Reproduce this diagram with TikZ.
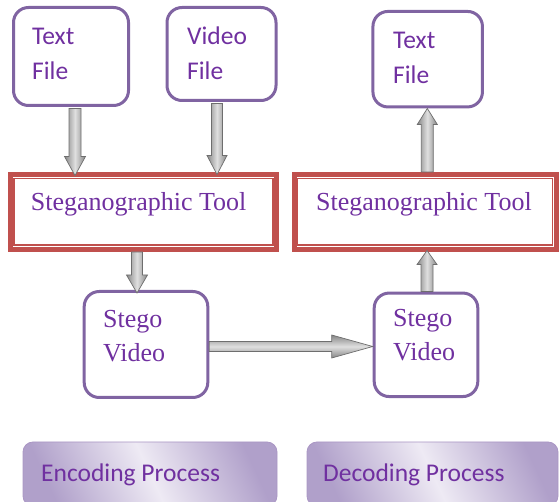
\documentclass[tikz,border=0pt]{standalone}
\usepackage{fontspec}
\usetikzlibrary{calc}
\newfontfamily\sansface{Carlito}
\newfontfamily\serifface{Liberation Serif}
\definecolor{boxpurple}{RGB}{128,100,162}
\definecolor{txtpurple}{RGB}{112,48,160}
\definecolor{toolred}{RGB}{192,80,77}
\definecolor{arrowedge}{RGB}{110,110,110}
\definecolor{lavdark}{RGB}{176,160,202}
\definecolor{lavlight}{RGB}{238,234,244}
\definecolor{lavedge}{RGB}{170,150,196}

\tikzset{
  filebox/.style={draw=boxpurple, line width=3pt, rounded corners=15pt, fill=white, inner sep=0pt},
  toolbox/.style={draw=toolred, line width=5pt, fill=white, inner sep=0pt},
  toolinner/.style={draw=toolred, line width=1.3pt},
  procbox/.style={draw=lavedge, line width=0.8pt, rounded corners=10pt, inner sep=0pt,
    left color=lavdark, right color=lavdark, middle color=lavlight, shading angle=115},
  lbl/.style={anchor=base west, inner sep=0pt, text=txtpurple},
  sanslbl/.style={lbl, font=\sansface\fontsize{25.5}{30}\selectfont},
  seriflbl/.style={lbl, font=\serifface\fontsize{26}{30}\selectfont},
  varrow/.style={draw=arrowedge, line width=0.7pt, left color=gray!95, right color=gray!95, middle color=gray!25},
  harrow/.style={draw=arrowedge, line width=0.7pt, top color=gray!95, bottom color=gray!95, middle color=gray!25},
}

% fat block arrow: [style]{start}{tip}{head length}{half shaft}{half head}
\newcommand\fatarrow[6][]{%
  \coordinate (fa-h) at ($(#3)!#4!(#2)$);
  \path[#1] ($(#2)!#5!-90:(#3)$) -- ($(fa-h)!#5!90:(#2)$) -- ($(fa-h)!#6!90:(#2)$)
    -- (#3) -- ($(fa-h)!#6!-90:(#2)$) -- ($(fa-h)!#5!-90:(#2)$) -- ($(#2)!#5!90:(#3)$) -- cycle;}

\begin{document}
\begin{tikzpicture}[x=1pt,y=-1pt]
\clip (0,0) rectangle (560,502);

% input files and the two tools
\node[filebox, minimum width=115pt, minimum height=98pt] (tf) at (71,56.5) {};
\node[filebox, minimum width=109pt, minimum height=93pt] (vf) at (221.5,54) {};
\node[filebox, minimum width=109.5pt, minimum height=95.5pt] (tf2) at (427.7,59.2) {};
\node[toolbox, minimum width=266pt, minimum height=75pt] (enc) at (143.5,212) {};
\node[toolbox, minimum width=262pt, minimum height=75pt] (dec) at (425.3,212) {};
\draw[toolinner] ([shift={(6pt,-6.5pt)}]enc.north west) rectangle ([shift={(-6pt,7pt)}]enc.south east);
\draw[toolinner] ([shift={(6pt,-6.5pt)}]dec.north west) rectangle ([shift={(-6pt,7pt)}]dec.south east);

% stego videos
\node[filebox, minimum width=123.6pt, minimum height=106pt] (sv1) at (146,344.5) {};
\node[filebox, minimum width=103.6pt, minimum height=103.5pt] (sv2) at (426,344.8) {};

% process captions
\node[procbox, minimum width=254pt, minimum height=64pt] (ep) at (150,474) {};
\node[procbox, minimum width=251pt, minimum height=64pt] (dp) at (432.5,474) {};

% texts
\node[sanslbl] (tf-a) at (32,45) {Text};
\node[sanslbl] (tf-b) at (32,80) {File};
\node[sanslbl] (vf-a) at (187,45) {Video};
\node[sanslbl] (vf-b) at (187,80) {File};
\node[sanslbl] (tf2-a) at (393,49) {Text};
\node[sanslbl] (tf2-b) at (393,84) {File};
\node[seriflbl] (enc-t) at (30.7,211) {Steganographic Tool};
\node[seriflbl] (dec-t) at (316,211) {Steganographic Tool};
\node[seriflbl] (sv1-a) at (103,328) {Stego};
\node[seriflbl] (sv1-b) at (103,361.5) {Video};
\node[seriflbl] (sv2-a) at (393,327) {Stego};
\node[seriflbl] (sv2-b) at (393,361) {Video};
\node[sanslbl] (ep-t) at (41,481.5) {Encoding Process};
\node[sanslbl] (dp-t) at (323,481.5) {Decoding Process};

% arrow end points
\coordinate (a1s) at ([xshift=4pt,yshift=-1.5pt]tf.south);
\coordinate (a1t) at (a1s |- enc.north);
\coordinate (a1e) at ([yshift=-3.5pt]a1t);
\coordinate (a2s) at ([xshift=-4.5pt,yshift=-1.5pt]vf.south);
\coordinate (a2t) at (a2s |- enc.north);
\coordinate (a2e) at ([yshift=-2.5pt]a2t);
\coordinate (a3s) at ([xshift=-6.5pt]enc.south);
\coordinate (a3t) at (a3s |- sv1.north);
\coordinate (a3e) at ([yshift=-3pt]a3t);
\coordinate (a4s) at ([yshift=-2pt]sv1.east);
\coordinate (a4e) at (a4s -| sv2.west);
\coordinate (a5s) at ([xshift=1pt]sv2.north);
\coordinate (a5t) at (a5s |- dec.south);
\coordinate (a5e) at ([yshift=1.5pt]a5t);
\coordinate (a6s) at ([xshift=2pt]dec.north);
\coordinate (a6e) at (a6s |- tf2.south);

\fatarrow[varrow]{a1s}{a1e}{19pt}{6pt}{10.5pt}
\fatarrow[varrow]{a2s}{a2e}{19pt}{5.5pt}{10pt}
\fatarrow[varrow]{a3s}{a3e}{18pt}{5.5pt}{10.5pt}
\fatarrow[harrow]{a4s}{a4e}{41pt}{5pt}{11.5pt}
\fatarrow[varrow]{a5s}{a5e}{14pt}{6pt}{10pt}
\fatarrow[varrow]{a6s}{a6e}{16pt}{6pt}{10pt}
\end{tikzpicture}
\end{document}
